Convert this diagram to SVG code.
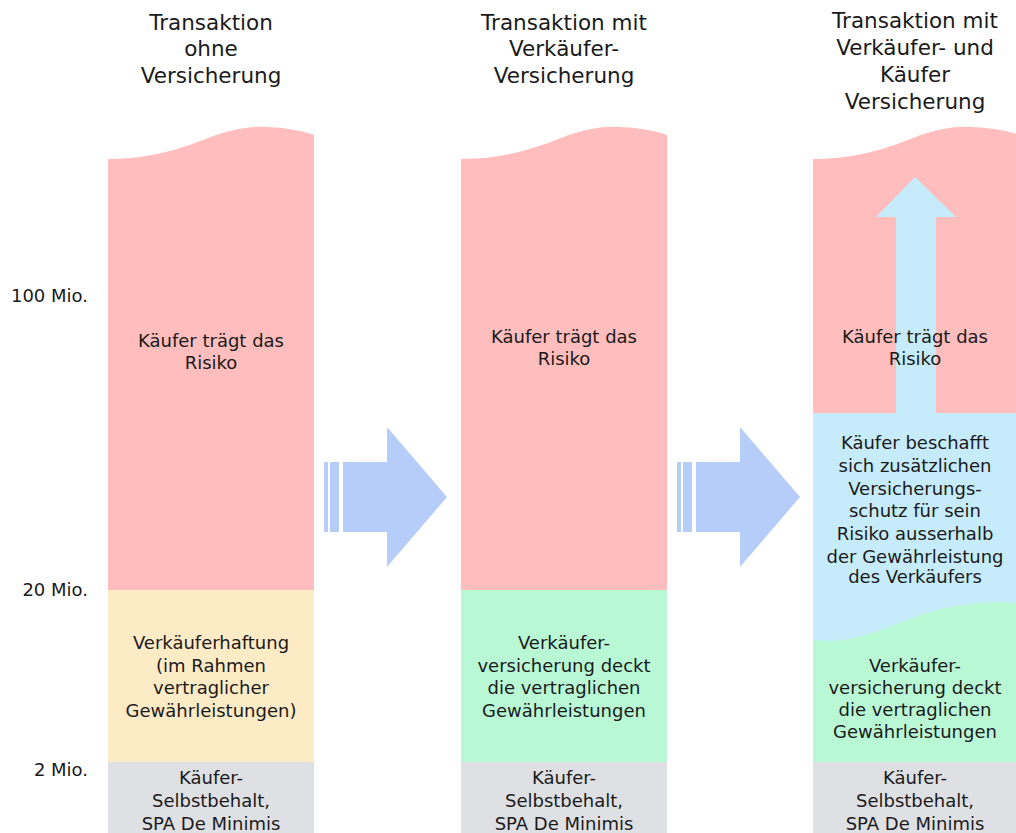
<svg xmlns="http://www.w3.org/2000/svg" width="1016" height="833" viewBox="0 0 1016 833">
<style>
.t{font-family:"DejaVu Sans","Liberation Sans",sans-serif;fill:#1a1a1a;text-anchor:middle}
.h{font-size:21.5px}
.b{font-size:18px}
.ax{font-family:"DejaVu Sans","Liberation Sans",sans-serif;fill:#1a1a1a;font-size:18px;text-anchor:end}
.red{fill:#ffbdbd}.yel{fill:#fdebc6}.grn{fill:#b9f8d5}.blu{fill:#c6ecfb}.gry{fill:#dfe0e4}.arr{fill:#b5cdf8}
</style>
<defs>
<path id="wave" d="M0,159 C40,159 70,150 100,138 C125,128 145,126 160,127 C180,128 195,131 206,135 L206,590 L0,590 Z"/>
<g id="rarrow">
<rect x="324" y="462" width="4" height="70"/>
<rect x="330" y="462" width="9" height="70"/>
<polygon points="343,462 387,462 387,427 447,497 387,567 387,532 343,532"/>
</g>
</defs>
<rect width="1016" height="833" fill="#ffffff"/>
<g id="axis">
<text class="ax" x="88" y="302">100 Mio.</text>
<text class="ax" x="88" y="596">20 Mio.</text>
<text class="ax" x="88" y="776">2 Mio.</text>
</g>
<g id="col1">
<text class="t h" x="211" y="30">Transaktion</text>
<text class="t h" x="211" y="56">ohne</text>
<text class="t h" x="211" y="83">Versicherung</text>
<use href="#wave" class="red" x="108"/>
<rect class="yel" x="108" y="590" width="206" height="172"/>
<rect class="gry" x="108" y="762" width="206" height="71"/>
<text class="t b" x="211" y="347">Käufer trägt das</text>
<text class="t b" x="211" y="369">Risiko</text>
<text class="t b" x="211" y="649">Verkäuferhaftung</text>
<text class="t b" x="211" y="672">(im Rahmen</text>
<text class="t b" x="211" y="694">vertraglicher</text>
<text class="t b" x="211" y="717">Gewährleistungen)</text>
<text class="t b" x="211" y="784">Käufer-</text>
<text class="t b" x="211" y="807">Selbstbehalt,</text>
<text class="t b" x="211" y="830">SPA De Minimis</text>
</g>
<g id="col2">
<text class="t h" x="564" y="30">Transaktion mit</text>
<text class="t h" x="564" y="56">Verkäufer-</text>
<text class="t h" x="564" y="83">Versicherung</text>
<use href="#wave" class="red" x="461"/>
<rect class="grn" x="461" y="590" width="206" height="172"/>
<rect class="gry" x="461" y="762" width="206" height="71"/>
<text class="t b" x="564" y="343">Käufer trägt das</text>
<text class="t b" x="564" y="365">Risiko</text>
<text class="t b" x="564" y="649">Verkäufer-</text>
<text class="t b" x="564" y="672">versicherung deckt</text>
<text class="t b" x="564" y="694">die vertraglichen</text>
<text class="t b" x="564" y="717">Gewährleistungen</text>
<text class="t b" x="564" y="784">Käufer-</text>
<text class="t b" x="564" y="807">Selbstbehalt,</text>
<text class="t b" x="564" y="830">SPA De Minimis</text>
</g>
<g id="col3">
<text class="t h" x="915" y="28">Transaktion mit</text>
<text class="t h" x="915" y="55">Verkäufer- und</text>
<text class="t h" x="915" y="82">Käufer</text>
<text class="t h" x="915" y="109">Versicherung</text>
<use href="#wave" class="red" x="813"/>
<rect class="blu" x="813" y="413" width="206" height="240"/>
<path class="grn" d="M813,640 C850,645 880,630 920,615 C960,602 995,600 1019,604 L1019,762 L813,762 Z"/>
<rect class="gry" x="813" y="762" width="206" height="71"/>
<polygon class="blu" points="896,414 896,217 876,217 915,177 956,217 936,217 936,414"/>
<text class="t b" x="915" y="343">Käufer trägt das</text>
<text class="t b" x="915" y="365">Risiko</text>
<text class="t b" x="915" y="449">Käufer beschafft</text>
<text class="t b" x="915" y="472">sich zusätzlichen</text>
<text class="t b" x="915" y="495">Versicherungs-</text>
<text class="t b" x="915" y="517">schutz für sein</text>
<text class="t b" x="915" y="540">Risiko ausserhalb</text>
<text class="t b" x="915" y="563">der Gewährleistung</text>
<text class="t b" x="915" y="583">des Verkäufers</text>
<text class="t b" x="915" y="672">Verkäufer-</text>
<text class="t b" x="915" y="694">versicherung deckt</text>
<text class="t b" x="915" y="716">die vertraglichen</text>
<text class="t b" x="915" y="738">Gewährleistungen</text>
<text class="t b" x="915" y="784">Käufer-</text>
<text class="t b" x="915" y="807">Selbstbehalt,</text>
<text class="t b" x="915" y="830">SPA De Minimis</text>
</g>
<g id="connectors" class="arr">
<use href="#rarrow"/>
<use href="#rarrow" x="353"/>
</g>
</svg>
